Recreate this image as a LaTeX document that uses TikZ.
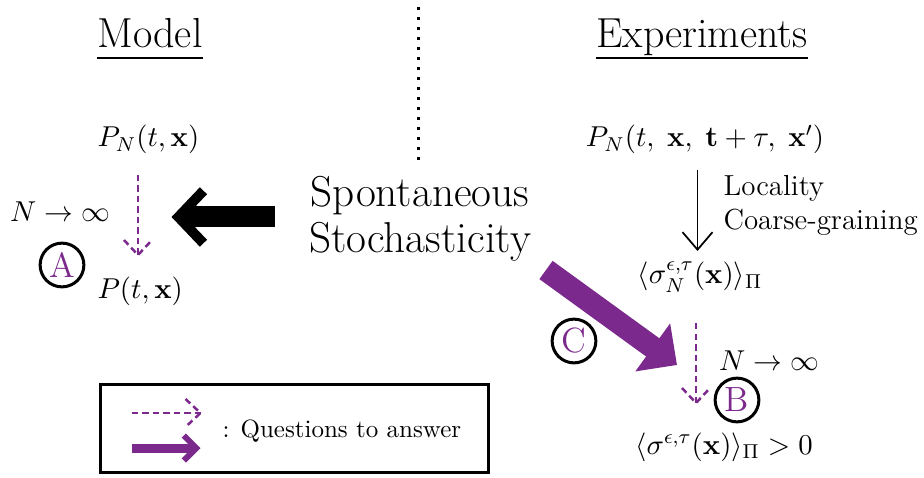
\documentclass[tikz,border=0pt]{standalone}
\usepackage{fix-cm}
\usepackage{amsmath,amssymb,bm}
\usetikzlibrary{arrows.meta,positioning,calc}
\definecolor{qpurple}{RGB}{123,41,140}

\begin{document}
\begin{tikzpicture}[
    x=0.4pt,y=-0.4pt,
    every node/.style={inner sep=0pt},
    txt/.style={font=\fontsize{11.5}{13.8}\selectfont},
    title/.style={font=\fontsize{16.8}{20}\selectfont},
    letter/.style={circle,draw,line width=1.2pt,minimum size=17.5pt,
                   text=qpurple,font=\fontsize{14}{16}\selectfont},
    question/.style={qpurple,line width=1pt,dash pattern=on 2.6pt off 1.6pt},
    answer/.style={qpurple,line width=9pt,-{Triangle[length=12pt,width=23pt]}},
    bigarrow/.style={line width=8.4pt,-{Straight Barb[length=10pt,width=21pt,line width=4pt]}}
  ]
  \useasboundingbox (0,0) rectangle (924,478);

  % headings and separator
  \node[title,anchor=base] (model) at (150,48) {Model};
  \node[title,anchor=base] (exp) at (702,48) {Experiments};
  \draw[line width=1.1pt] ([yshift=-4pt]model.base west) -- ([yshift=-4pt]model.base east);
  \draw[line width=1.1pt] ([yshift=-4pt]exp.base west) -- ([yshift=-4pt]exp.base east);
  \draw[line width=1.2pt,dash pattern=on 1.2pt off 2.8pt] (418,7) -- (418,160);

  % model side
  \node[txt,anchor=base west] (pnl) at (97,147) {$P_N(t,\mathbf{x})$};
  \node[txt,anchor=base west] (pl) at (97,299) {$P(t,\mathbf{x})$};
  \node[txt,anchor=base] (nl) at (60,222) {$N\to\infty$};
  \node[letter] (ca) at (62,265) {A};
  \coordinate (qa2) at ($(ca)+(76,-10)$);
  \coordinate (qa1) at ($(qa2)+(0,-80)$);
  \draw[question] (qa1) -- (qa2);
  \draw[question] ($(qa2)+(-14,-15)$) -- (qa2) -- ($(qa2)+(14,-15)$);

  % spontaneous stochasticity
  \node[font=\fontsize{17.3}{18.4}\selectfont,align=center] (ss) at (420,219) {Spontaneous\\Stochasticity};
  \coordinate (sstail) at ($(ss.west)+(-34,-2)$);
  \coordinate (sshead) at ($(sstail)+(-103,0)$);
  \draw[bigarrow] (sstail) -- (sshead);

  % experiments side
  \node[txt,anchor=base] (pnr) at (705,147) {$P_N(t,\;\mathbf{x},\;\mathbf{t}+\tau,\;\mathbf{x}')$};
  \node[txt,anchor=base west,font=\fontsize{11.6}{14}\selectfont] (loc) at (723,196) {Locality};
  \node[txt,anchor=base west,font=\fontsize{11.6}{14}\selectfont] (cg) at (723,230) {Coarse-graining};
  \node[txt,anchor=base] (sn) at (700,284) {$\langle\sigma_N^{\epsilon,\tau}(\mathbf{x})\rangle_\Pi$};
  \draw[line width=0.7pt,-{Straight Barb[length=7pt,width=12pt]}]
    ([xshift=-1pt]sn.north |- pnr.south) ++(0,15) -- ([xshift=-1pt,yshift=4pt]sn.north);
  \node[txt,anchor=base] (nr) at (769,370) {$N\to\infty$};
  \node[letter] (cb) at (737,400) {B};
  \node[txt,anchor=base] (sl) at (724,454) {$\langle\sigma^{\epsilon,\tau}(\mathbf{x})\rangle_\Pi>0$};
  \coordinate (qb2) at ($(cb)+(-41,3)$);
  \coordinate (qb1) at ($(qb2)+(0,-80)$);
  \draw[question] (qb1) -- (qb2);
  \draw[question] ($(qb2)+(-14,-15)$) -- (qb2) -- ($(qb2)+(14,-15)$);

  % the answer arrow
  \node[letter] (cc) at (574,341) {C};
  \coordinate (cto) at ($(cb)+(-60,-35)$);
  \coordinate (cfrom) at ($(cto)+(-131,-95)$);
  \draw[answer] (cfrom) -- (cto);

  % legend
  \node[draw,line width=1.2pt,minimum width=154.8pt,minimum height=35.2pt] (legend) at (294.5,428) {};
  \node[font=\fontsize{10}{12}\selectfont,anchor=base west] (qtext) at (222,437) {: Questions to answer};
  \coordinate (ld1) at ($(legend.west)+(32,-15)$);
  \coordinate (ld2) at ($(ld1)+(69,0)$);
  \draw[question] (ld1) -- (ld2);
  \draw[question] ($(ld2)+(-15,-14)$) -- (ld2) -- ($(ld2)+(-15,14)$);
  \coordinate (ls1) at ($(legend.west)+(32,20)$);
  \coordinate (ls2) at ($(ls1)+(69,0)$);
  \draw[qpurple,line width=3.6pt,-{Straight Barb[length=5pt,width=10pt,line width=2.4pt]}] (ls1) -- (ls2);
\end{tikzpicture}
\end{document}
